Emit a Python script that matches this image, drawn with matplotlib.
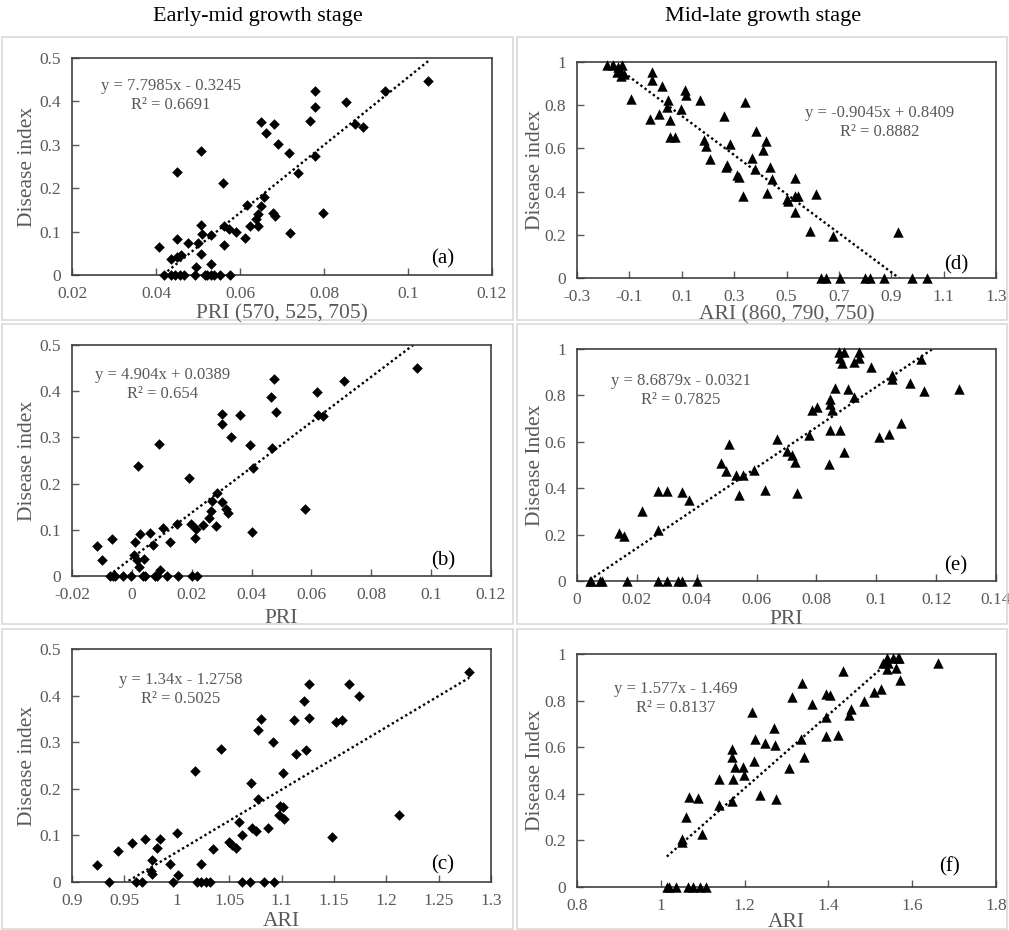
import matplotlib
matplotlib.use('Agg')
from matplotlib import pyplot as plt
from matplotlib.patches import Rectangle
import numpy as np

plt.rcParams['font.family'] = ['Liberation Serif', 'DejaVu Serif']

# ---- data ----
a_x = [0.0408, 0.0451, 0.0507, 0.0559, 0.0450, 0.0475, 0.0435, 0.0450, 0.0460, 0.0506,
       0.0510, 0.0500, 0.0530, 0.0507, 0.0496, 0.0530, 0.0562, 0.0562, 0.0574, 0.0590,
       0.0611, 0.0616, 0.0624, 0.0642, 0.0638, 0.0643, 0.0651, 0.0658, 0.0678, 0.0683,
       0.0719, 0.0650, 0.0680, 0.0663, 0.0690, 0.0716, 0.0738, 0.0778, 0.0778, 0.0766,
       0.0778, 0.0852, 0.0873, 0.0894, 0.0945, 0.1048, 0.0798,
       0.0419, 0.0435, 0.0446, 0.0456, 0.0466, 0.0494, 0.0516, 0.0522, 0.0530, 0.0538,
       0.0552, 0.0576]
a_y = [0.065, 0.238, 0.285, 0.212, 0.082, 0.073, 0.036, 0.041, 0.046, 0.115,
       0.095, 0.073, 0.092, 0.048, 0.018, 0.025, 0.069, 0.113, 0.105, 0.100,
       0.085, 0.162, 0.112, 0.112, 0.128, 0.141, 0.160, 0.179, 0.144, 0.136,
       0.096, 0.352, 0.348, 0.327, 0.302, 0.282, 0.235, 0.425, 0.386, 0.354,
       0.275, 0.398, 0.348, 0.342, 0.423, 0.448, 0.144,
       0, 0, 0, 0, 0, 0, 0, 0, 0, 0, 0, 0]

b_x = [-0.0117, -0.0101, -0.0067, 0.0019, 0.0091, 0.0192, 0.0011, 0.0026, 0.0061, 0.0069,
       0.0008, 0.0017, 0.0023, 0.0041, 0.0094, 0.0103, 0.0128, 0.0150, 0.0197, 0.0214,
       0.0211, 0.0237, 0.0259, 0.0263, 0.0268, 0.0283, 0.0281, 0.0300, 0.0314, 0.0320,
       0.0302, 0.0300, 0.0330, 0.0361, 0.0394, 0.0406, 0.0402, 0.0467, 0.0464, 0.0476,
       0.0481, 0.0578, 0.0619, 0.0622, 0.0637, 0.0708, 0.0952,
       -0.0074, -0.0064, -0.0056, -0.0028, -0.0002, 0.0037, 0.0044, 0.0078, 0.0083, 0.0119,
       0.0153, 0.0200, 0.0219]
b_y = [0.065, 0.035, 0.081, 0.238, 0.285, 0.213, 0.073, 0.091, 0.093, 0.068,
       0.046, 0.035, 0.020, 0.036, 0.013, 0.104, 0.073, 0.113, 0.113, 0.102,
       0.082, 0.111, 0.126, 0.140, 0.162, 0.179, 0.109, 0.160, 0.144, 0.136,
       0.351, 0.329, 0.301, 0.349, 0.283, 0.233, 0.095, 0.276, 0.388, 0.427,
       0.354, 0.144, 0.399, 0.349, 0.346, 0.423, 0.450,
       0, 0, 0, 0, 0, 0, 0, 0, 0, 0, 0, 0, 0]

c_x = [0.9242, 0.9439, 0.9575, 0.9696, 0.9841, 0.9810, 0.9765, 0.9756, 0.9765, 0.9937,
       1.0003, 1.0016, 1.0178, 1.0231, 1.0349, 1.0419, 1.0501, 1.0526, 1.0564, 1.0590,
       1.0621, 1.0710, 1.0723, 1.0755, 1.0774, 1.0780, 1.0805, 1.0869, 1.0920, 1.0983,
       1.1015, 1.0977, 1.1024, 1.1015, 1.1120, 1.1142, 1.1215, 1.1237, 1.1262, 1.1262,
       1.1643, 1.1744, 1.1522, 1.1579, 1.2119, 1.1481, 1.2792,
       0.9353, 0.9613, 0.9670, 0.9962, 1.0190, 1.0231, 1.0279, 1.0317, 1.0621, 1.0701,
       1.0834, 1.0929]
c_y = [0.036, 0.067, 0.083, 0.092, 0.093, 0.072, 0.048, 0.024, 0.018, 0.038,
       0.106, 0.014, 0.238, 0.038, 0.070, 0.285, 0.086, 0.079, 0.073, 0.129,
       0.100, 0.213, 0.115, 0.110, 0.179, 0.327, 0.350, 0.115, 0.300, 0.163,
       0.162, 0.144, 0.136, 0.233, 0.348, 0.275, 0.388, 0.284, 0.425, 0.352,
       0.424, 0.399, 0.343, 0.348, 0.144, 0.096, 0.450,
       0, 0, 0, 0, 0, 0, 0, 0, 0, 0, 0, 0]

d_x = [-0.185, -0.163, -0.144, -0.128, -0.147, -0.132, -0.121, -0.134, -0.094, -0.012,
       -0.015, 0.023, -0.020, 0.015, 0.048, 0.043, 0.054, 0.055, 0.073, 0.098,
       0.112, 0.117, 0.169, 0.260, 0.340, 0.184, 0.191, 0.207, 0.283, 0.273,
       0.270, 0.311, 0.317, 0.333, 0.370, 0.378, 0.383, 0.409, 0.422, 0.427,
       0.437, 0.445, 0.500, 0.505, 0.534, 0.534, 0.543, 0.613, 0.531, 0.589,
       0.678, 0.926,
       0.632, 0.649, 0.706, 0.801, 0.818, 0.871, 0.979, 1.036]
d_y = [0.988, 0.988, 0.977, 0.988, 0.952, 0.937, 0.946, 0.965, 0.830, 0.954,
       0.918, 0.887, 0.736, 0.761, 0.823, 0.792, 0.733, 0.653, 0.653, 0.782,
       0.869, 0.849, 0.826, 0.752, 0.813, 0.640, 0.613, 0.551, 0.622, 0.525,
       0.514, 0.475, 0.466, 0.381, 0.556, 0.505, 0.682, 0.591, 0.633, 0.394,
       0.514, 0.458, 0.366, 0.355, 0.463, 0.378, 0.378, 0.390, 0.304, 0.219,
       0.196, 0.211,
       0, 0, 0, 0, 0, 0, 0, 0]

e_x = [0.0139, 0.0156, 0.0217, 0.0272, 0.0302, 0.0352, 0.0374, 0.0272, 0.0481, 0.0497,
       0.0508, 0.0530, 0.0556, 0.0542, 0.0592, 0.0628, 0.0669, 0.0702, 0.0719, 0.0727,
       0.0736, 0.0774, 0.0786, 0.0802, 0.0844, 0.0847, 0.0852, 0.0863, 0.0844, 0.0880,
       0.0843, 0.0891, 0.0874, 0.0891, 0.0880, 0.0886, 0.0943, 0.0943, 0.0927, 0.0904,
       0.0927, 0.0983, 0.1052, 0.1054, 0.1008, 0.1041, 0.1083, 0.1113, 0.1161, 0.1150,
       0.1277,
       0.0042, 0.0048, 0.0076, 0.0083, 0.0167, 0.0272, 0.0302, 0.0339, 0.0350, 0.0402]
e_y = [0.206, 0.195, 0.300, 0.386, 0.386, 0.382, 0.350, 0.221, 0.509, 0.473,
       0.591, 0.458, 0.458, 0.372, 0.480, 0.394, 0.610, 0.559, 0.541, 0.512,
       0.379, 0.631, 0.735, 0.751, 0.786, 0.761, 0.739, 0.833, 0.653, 0.653,
       0.506, 0.555, 0.989, 0.985, 0.963, 0.941, 0.989, 0.963, 0.944, 0.826,
       0.794, 0.923, 0.886, 0.872, 0.621, 0.634, 0.679, 0.852, 0.819, 0.959,
       0.829,
       0, 0, 0, 0, 0, 0, 0, 0, 0, 0]

f_x = [1.0496, 1.0496, 1.0600, 1.0680, 1.0880, 1.0984, 1.1400, 1.1384, 1.1696, 1.1696,
       1.1760, 1.1720, 1.1696, 1.1960, 1.1980, 1.2184, 1.2224, 1.2240, 1.2376, 1.2480,
       1.2704, 1.2720, 1.2744, 1.3070, 1.3130, 1.3360, 1.3410, 1.3350, 1.3610, 1.3940,
       1.3940, 1.4040, 1.3940, 1.4230, 1.4350, 1.4490, 1.4550, 1.4860, 1.5100, 1.5250,
       1.5300, 1.5410, 1.5430, 1.5540, 1.5650, 1.5690, 1.5410, 1.5610, 1.5720, 1.6610,
       1.0144, 1.0200, 1.0360, 1.0656, 1.0760, 1.0944, 1.1080]
f_y = [0.208, 0.194, 0.302, 0.385, 0.381, 0.226, 0.462, 0.352, 0.592, 0.560,
       0.513, 0.462, 0.371, 0.517, 0.481, 0.750, 0.539, 0.635, 0.395, 0.620,
       0.682, 0.610, 0.376, 0.510, 0.816, 0.876, 0.560, 0.635, 0.787, 0.729,
       0.830, 0.825, 0.649, 0.654, 0.926, 0.740, 0.765, 0.797, 0.836, 0.850,
       0.962, 0.984, 0.962, 0.984, 0.984, 0.984, 0.935, 0.940, 0.890, 0.962,
       0, 0, 0, 0, 0, 0, 0]

# trendline coefficients and labels as printed on the chart
fits = {
    'a': (7.7985, -0.3245, 'y = 7.7985x - 0.3245', 'R² = 0.6691'),
    'b': (4.904, 0.0389, 'y = 4.904x + 0.0389', 'R² = 0.654'),
    'c': (1.34, -1.2758, 'y = 1.34x - 1.2758', 'R² = 0.5025'),
    'd': (-0.9045, 0.8409, 'y = -0.9045x + 0.8409', 'R² = 0.8882'),
    'e': (8.6879, -0.0321, 'y = 8.6879x - 0.0321', 'R² = 0.7825'),
    'f': (1.577, -1.469, 'y = 1.577x - 1.469', 'R² = 0.8137'),
}

GRAY = '#595959'
W, H = 1009, 930

fig = plt.figure(figsize=(W / 100, H / 100), dpi=100)


def box(l, t, r, b):
    # pixel box -> figure fraction rect
    return [l / W, 1 - b / H, (r - l) / W, (b - t) / H]


# light panel frames
for (l, t, r, b) in [(2, 37, 513, 320), (517, 37, 1007, 320),
                     (2, 324, 513, 624), (517, 324, 1007, 624),
                     (2, 629, 513, 929), (517, 629, 1007, 929)]:
    fig.patches.append(Rectangle((l / W, 1 - b / H), (r - l) / W, (b - t) / H,
                                 transform=fig.transFigure, fill=False,
                                 edgecolor='#d9d9d9', linewidth=1.2))


def panel(rect, x, y, marker, ms, key, xlim, xticks, ylim, yticks,
          xlabel, ylabel, eq_pos, letter_pos, xlab_y, ylab_x):
    ax = fig.add_axes(box(*rect))
    ax.scatter(x, y, marker=marker, s=ms ** 2, color='black', linewidths=0,
               zorder=3, clip_on=False)
    k, b0, eq, r2 = fits[key]
    xs = np.array([min(x), max(x)])
    ax.plot(xs, k * xs + b0, color='black', linestyle=(0, (1, 1.2)), linewidth=1.7, zorder=2)
    ax.set_xlim(xlim)
    ax.set_ylim(ylim)
    ax.set_xticks(xticks)
    ax.set_yticks(yticks)
    ax.set_xticklabels(['%g' % round(v, 3) for v in xticks])
    ax.set_yticklabels(['%g' % round(v, 3) for v in yticks])
    ax.tick_params(direction='in', length=5, width=1, colors=GRAY, labelsize=12.5,
                   labelcolor=GRAY, pad=8)
    for s in ax.spines.values():
        s.set_color('#404040')
        s.set_linewidth(1.2)
    l, t, r, bt = rect
    fig.text(eq_pos[0] / W, 1 - eq_pos[1] / H, eq, ha='center', va='center',
             fontsize=12, color=GRAY)
    fig.text(eq_pos[0] / W, 1 - (eq_pos[1] + 19) / H, r2, ha='center', va='center',
             fontsize=12, color=GRAY)
    fig.text(letter_pos[0] / W, 1 - letter_pos[1] / H, '(%s)' % key, ha='center',
             va='center', fontsize=15, color='black')
    fig.text((l + r) / 2 / W, 1 - xlab_y / H, xlabel, ha='center', va='center',
             fontsize=15.5, color=GRAY)
    fig.text(ylab_x / W, 1 - (t + bt) / 2 / H, ylabel, ha='center', va='center',
             rotation=90, fontsize=15.5, color=GRAY)
    return ax


y5 = [0, 0.1, 0.2, 0.3, 0.4, 0.5]
y10 = [0, 0.2, 0.4, 0.6, 0.8, 1.0]

panel((72, 58, 492, 275), a_x, a_y, 'D', 5.4, 'a', (0.02, 0.12),
      [0.02, 0.04, 0.06, 0.08, 0.1, 0.12], (0, 0.5), y5,
      'PRI (570, 525, 705)', 'Disease index', (171, 86), (443, 259), 314, 28)
panel((72, 345, 491, 576), b_x, b_y, 'D', 5.4, 'b', (-0.02, 0.12),
      [-0.02, 0, 0.02, 0.04, 0.06, 0.08, 0.1, 0.12], (0, 0.5), y5,
      'PRI', 'Disease index', (163, 375), (443, 561), 618, 28)
panel((72, 649, 491, 882), c_x, c_y, 'D', 5.4, 'c', (0.9, 1.3),
      [0.9, 0.95, 1.0, 1.05, 1.1, 1.15, 1.2, 1.25, 1.3], (0, 0.5), y5,
      'ARI', 'Disease index', (181, 680), (443, 865), 921, 28)
panel((577, 62, 996, 278), d_x, d_y, '^', 7.5, 'd', (-0.3, 1.3),
      [-0.3, -0.1, 0.1, 0.3, 0.5, 0.7, 0.9, 1.1, 1.3], (0, 1), y10,
      'ARI (860, 790, 750)', 'Disease index', (880, 113), (956, 265), 315, 535)
panel((577, 349, 996, 581), e_x, e_y, '^', 7.5, 'e', (0, 0.14),
      [0, 0.02, 0.04, 0.06, 0.08, 0.1, 0.12, 0.14], (0, 1), y10,
      'PRI', 'Disease Index', (681, 381), (956, 566), 620, 535)
panel((577, 654, 996, 887), f_x, f_y, '^', 7.5, 'f', (0.8, 1.8),
      [0.8, 1.0, 1.2, 1.4, 1.6, 1.8], (0, 1), y10,
      'ARI', 'Disease Index', (676, 689), (950, 867), 922, 535)

fig.text(258 / W, 1 - 16 / H, 'Early-mid growth stage', ha='center', va='center',
         fontsize=16, color='black')
fig.text(763 / W, 1 - 16 / H, 'Mid-late growth stage', ha='center', va='center',
         fontsize=16, color='black')

fig.savefig('out.png', dpi=100)
